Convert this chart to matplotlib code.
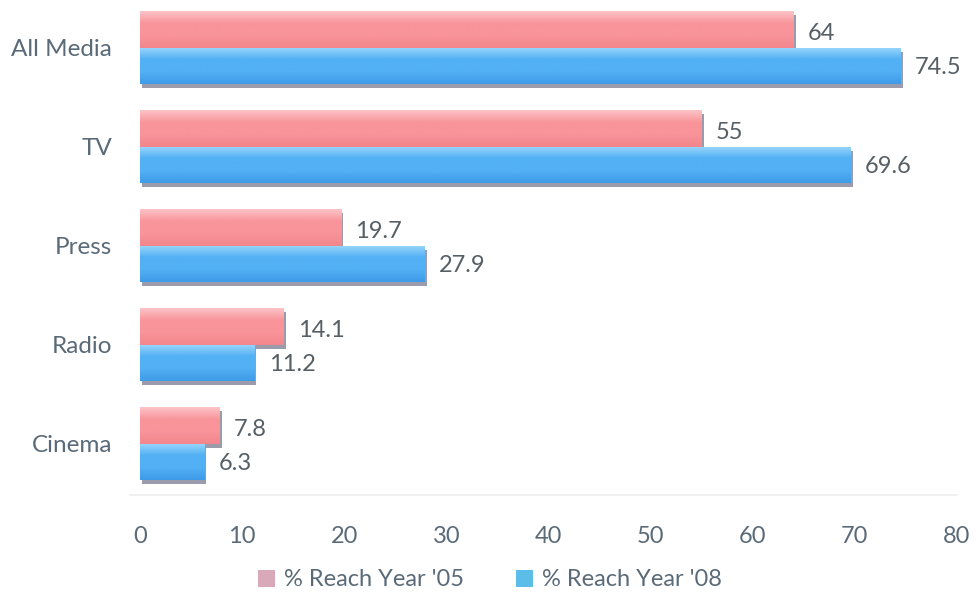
import matplotlib
matplotlib.use("Agg")
import matplotlib.pyplot as plt
import matplotlib.patheffects as pe
from matplotlib.colors import LinearSegmentedColormap
from matplotlib.patches import Patch
import numpy as np

plt.rcParams["font.family"] = ["Lato", "DejaVu Sans"]

categories = ["All Media", "TV", "Press", "Radio", "Cinema"]
reach_05 = [64, 55, 19.7, 14.1, 7.8]
reach_08 = [74.5, 69.6, 27.9, 11.2, 6.3]
xticks = [0, 10, 20, 30, 40, 50, 60, 70, 80]

TEXT = "#5a6a78"
LABEL = "#565f66"
PINK = ["#fcc3c6", "#f8949a", "#f2868c"]
BLUE = ["#9ad6fc", "#52b0f4", "#3e9be8"]

fig = plt.figure(figsize=(9.76, 5.94), dpi=100)
ax = fig.add_axes([140 / 976, 1 - 495 / 594, 817 / 976, 495 / 594])

bar_h = 0.37
y = np.arange(len(categories))


def shaded_barh(ax, ys, widths, cols):
    # flat bar for the shadow, gradient image clipped to it for the sheen
    cmap = LinearSegmentedColormap.from_list("g", [cols[0], cols[1], cols[1], cols[2]])
    grad = np.linspace(0, 1, 64).reshape(-1, 1)
    bars = ax.barh(ys, widths, height=bar_h, color=cols[1], linewidth=0,
                   zorder=2)
    for b in bars:
        b.set_path_effects([pe.SimplePatchShadow(offset=(1.5, -3), shadow_rgbFace="#4a4a66",
                                                 alpha=0.55), pe.Normal()])
        x0, y0 = b.get_x(), b.get_y()
        w, h = b.get_width(), b.get_height()
        im = ax.imshow(grad, cmap=cmap, aspect="auto", zorder=3,
                       extent=(x0, x0 + w, y0 + h, y0), interpolation="bilinear")
        im.set_clip_path(b)
    return bars


shaded_barh(ax, y - bar_h / 2, reach_05, PINK)
shaded_barh(ax, y + bar_h / 2, reach_08, BLUE)

for yi, v in zip(y, reach_05):
    ax.text(v + 1.4, yi - bar_h / 2 + 0.04, f"{v:g}", va="center", ha="left",
            fontsize=17, color=LABEL, zorder=4)
for yi, v in zip(y, reach_08):
    ax.text(v + 1.4, yi + bar_h / 2 + 0.02, f"{v:g}", va="center", ha="left",
            fontsize=17, color=LABEL, zorder=4)

ax.set_xlim(0, 80)
ax.set_ylim(4.52, -0.48)
ax.set_yticks(y)
ax.set_yticklabels(categories, fontsize=17.5, color=TEXT)
ax.set_xticks(xticks)
ax.set_xticklabels([str(t) for t in xticks], fontsize=17, color=TEXT)
ax.tick_params(length=0)
ax.tick_params(axis="x", pad=22)
ax.tick_params(axis="y", pad=20)
for s in ax.spines.values():
    s.set_visible(False)
ax.axhline(4.52, xmin=-0.012, color="#eeeeee", linewidth=1.2, clip_on=False)

handles = [Patch(facecolor="#d9a9b9", label="% Reach Year '05"),
           Patch(facecolor="#5cbde8", label="% Reach Year '08")]
fig.legend(handles=handles, loc="center", bbox_to_anchor=(490 / 976, 1 - 580 / 594),
           ncol=2, frameon=False, fontsize=17, labelcolor=TEXT, handlelength=0.7,
           handleheight=0.7, handletextpad=0.4, columnspacing=2.2)

fig.savefig("out.png", dpi=100)
